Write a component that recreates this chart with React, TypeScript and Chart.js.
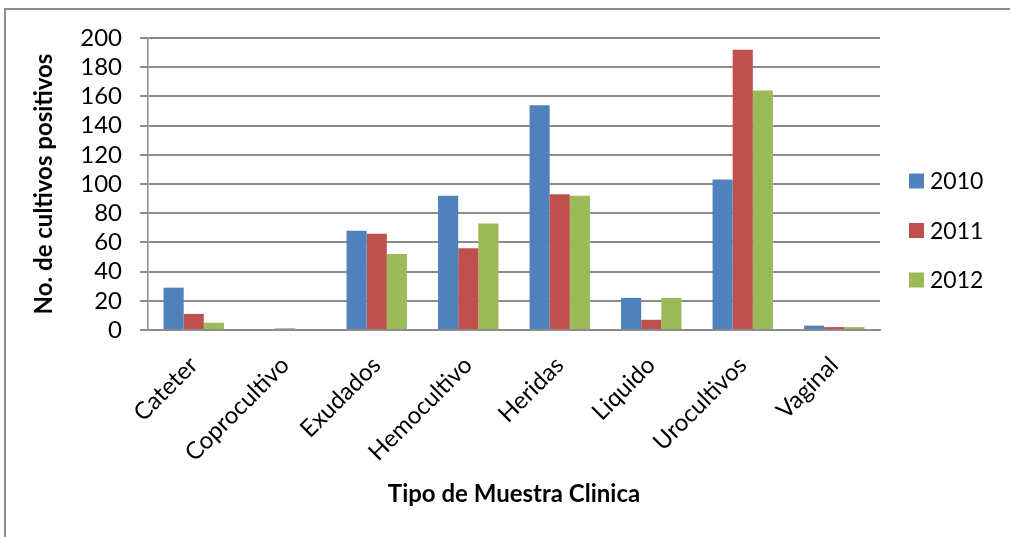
import React, { useEffect, useRef } from "react";
import { Chart, registerables } from "chart.js";

Chart.register(...registerables);

const categories = [
  "Cateter",
  "Coprocultivo",
  "Exudados",
  "Hemocultivo",
  "Heridas",
  "Liquido",
  "Urocultivos",
  "Vaginal",
];
const years = ["2010", "2011", "2012"];
const values2010 = [29, 0, 68, 92, 154, 22, 103, 3];
const values2011 = [11, 1, 66, 56, 93, 7, 192, 2];
const values2012 = [5, 0, 52, 73, 92, 22, 164, 2];
const colors = ["#4F81BD", "#C0504D", "#9BBB59"];

const FONT = "Lato, 'Open Sans', sans-serif";

// Legend drawn to the right of the plot: colour square + year.
const sideLegend = {
  id: "sideLegend",
  afterDraw(chart: any) {
    const ctx = chart.ctx;
    const area = chart.chartArea;
    const startY = 181;
    const step = 49.5;
    ctx.save();
    ctx.font = `23px ${FONT}`;
    ctx.textBaseline = "middle";
    ctx.textAlign = "left";
    chart.data.datasets.forEach((ds: any, i: number) => {
      const cy = startY + i * step;
      ctx.fillStyle = ds.backgroundColor;
      ctx.fillRect(area.right + 29, cy - 7.5, 15, 15);
      ctx.fillStyle = "#000";
      ctx.fillText(ds.label, area.right + 50, cy + 1);
    });
    ctx.restore();
  },
};

export default function App() {
  const canvasRef = useRef<HTMLCanvasElement | null>(null);

  useEffect(() => {
    const canvas = canvasRef.current;
    if (!canvas) return;
    const series = [values2010, values2011, values2012];
    const chart = new Chart(canvas, {
      type: "bar",
      data: {
        labels: categories,
        datasets: years.map((y, i) => ({
          label: y,
          data: series[i],
          backgroundColor: colors[i],
          borderWidth: 0,
          barPercentage: 1,
          categoryPercentage: 0.66,
        })),
      },
      options: {
        responsive: false,
        animation: false,
        devicePixelRatio: 1,
        layout: { padding: { left: 0, top: 38, right: 130, bottom: 27 } },
        plugins: {
          legend: { display: false },
          tooltip: { enabled: false },
        },
        scales: {
          x: {
            grid: { display: false, drawTicks: false },
            border: { display: true, color: "#8c8c8c", width: 2 },
            ticks: {
              color: "#000",
              font: { family: FONT, size: 24 },
              maxRotation: 45,
              minRotation: 45,
              padding: 21,
              autoSkip: false,
            },
            title: {
              display: true,
              text: "Tipo de Muestra Clinica",
              color: "#000",
              font: { family: FONT, size: 24, weight: "bold" },
              padding: { top: 0, bottom: 1 },
            },
            afterFit(scale: any) {
              scale.height = 180;
            },
          },
          y: {
            min: 0,
            max: 200,
            ticks: {
              stepSize: 20,
              autoSkip: false,
              color: "#000",
              font: { family: FONT, size: 24 },
              padding: 18,
            },
            grid: {
              color: "#8c8c8c",
              lineWidth: 2,
              tickLength: 8,
              drawTicks: true,
            },
            border: { display: true, color: "#8c8c8c", width: 1.5 },
            title: {
              display: true,
              text: "No. de cultivos positivos",
              color: "#000",
              font: { family: FONT, size: 24, weight: "bold" },
              padding: { top: 30, bottom: 0 },
            },
            afterFit(scale: any) {
              scale.width = 148;
            },
          },
        },
      },
      plugins: [sideLegend],
    });
    return () => chart.destroy();
  }, []);

  return (
    <>
      <div
        style={{
          position: "fixed",
          left: 4,
          top: 8,
          width: 1100,
          height: 600,
          borderTop: "2px solid #8c8c8c",
          borderLeft: "2px solid #8c8c8c",
          background: "#fff",
        }}
      />
      <canvas
        ref={canvasRef}
        width={1010}
        height={537}
        style={{ position: "fixed", left: 0, top: 0, width: 1010, height: 537 }}
      />
    </>
  );
}
